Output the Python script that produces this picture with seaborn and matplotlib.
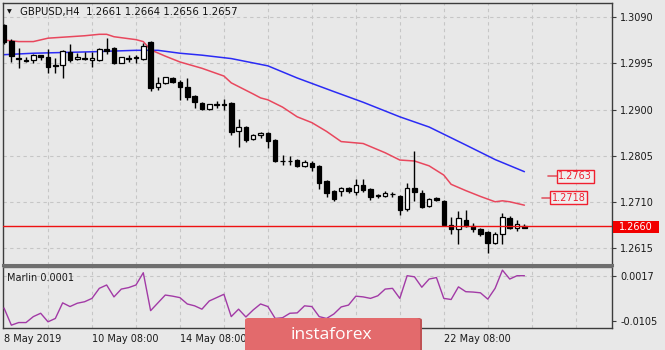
import numpy as np
import matplotlib
matplotlib.use("Agg")
import matplotlib.pyplot as plt
from matplotlib.patches import FancyBboxPatch, Rectangle
import seaborn as sns

# ---- GBPUSD H4 candles ----
opens = [1.3074, 1.3041, 1.3006, 1.3003, 1.3002, 1.3012, 1.3008, 1.2992, 1.2992, 1.3019,
         1.3004, 1.3006, 1.3002, 1.3002, 1.3025, 1.3027, 1.2996, 1.3006, 1.3008, 1.3004,
         1.3039, 1.2946, 1.2955, 1.2965, 1.2957, 1.2946, 1.2928, 1.2913, 1.2901, 1.2911,
         1.2911, 1.2913, 1.2856, 1.2864, 1.2839, 1.2847, 1.2852, 1.2837, 1.2794, 1.2795,
         1.2796, 1.2784, 1.2790, 1.2784, 1.2753, 1.2732, 1.2733, 1.2738, 1.2731, 1.2745,
         1.2736, 1.2724, 1.2722, 1.2726, 1.2722, 1.2695, 1.2738, 1.2728, 1.2702, 1.2718,
         1.2712, 1.2662, 1.2654, 1.2672, 1.2661, 1.2654, 1.2648, 1.2625, 1.2644, 1.2677,
         1.2656, 1.2661]
highs = [1.3076, 1.3045, 1.3027, 1.3008, 1.3014, 1.3012, 1.3025, 1.3006, 1.3023, 1.3035,
         1.3016, 1.3019, 1.3019, 1.3027, 1.3047, 1.3029, 1.3009, 1.3012, 1.3012, 1.3038,
         1.3041, 1.2967, 1.2968, 1.2967, 1.2961, 1.2965, 1.2930, 1.2916, 1.2911, 1.2917,
         1.2922, 1.2916, 1.2881, 1.2866, 1.2850, 1.2853, 1.2854, 1.2839, 1.2806, 1.2804,
         1.2798, 1.2796, 1.2794, 1.2786, 1.2755, 1.2734, 1.2740, 1.2741, 1.2757, 1.2757,
         1.2738, 1.2726, 1.2732, 1.2731, 1.2724, 1.2749, 1.2815, 1.2734, 1.2718, 1.2720,
         1.2714, 1.2679, 1.2691, 1.2693, 1.2667, 1.2656, 1.2650, 1.2648, 1.2687, 1.2681,
         1.2672, 1.2664]
lows = [1.3035, 1.2998, 1.2986, 1.2998, 1.2996, 1.3002, 1.2975, 1.2975, 1.2965, 1.2998,
        1.3002, 1.3002, 1.2988, 1.3001, 1.3014, 1.2994, 1.2995, 1.2998, 1.2996, 1.3002,
        1.2938, 1.2940, 1.2953, 1.2955, 1.2920, 1.2920, 1.2903, 1.2899, 1.2900, 1.2904,
        1.2899, 1.2848, 1.2823, 1.2833, 1.2838, 1.2841, 1.2821, 1.2792, 1.2786, 1.2786,
        1.2782, 1.2782, 1.2773, 1.2736, 1.2720, 1.2712, 1.2722, 1.2728, 1.2724, 1.2730,
        1.2714, 1.2718, 1.2720, 1.2720, 1.2683, 1.2690, 1.2712, 1.2697, 1.2700, 1.2712,
        1.2661, 1.2644, 1.2623, 1.2659, 1.2648, 1.2640, 1.2605, 1.2623, 1.2623, 1.2654,
        1.2650, 1.2656]
closes = [1.3039, 1.3010, 1.3004, 1.3001, 1.3012, 1.3008, 1.2988, 1.2990, 1.3021, 1.3002,
          1.3008, 1.3005, 1.3006, 1.3025, 1.3020, 1.2996, 1.3008, 1.3005, 1.3007, 1.3031,
          1.2944, 1.2955, 1.2967, 1.2957, 1.2946, 1.2926, 1.2916, 1.2901, 1.2911, 1.2910,
          1.2910, 1.2854, 1.2864, 1.2837, 1.2848, 1.2852, 1.2835, 1.2794, 1.2793, 1.2794,
          1.2784, 1.2792, 1.2782, 1.2749, 1.2728, 1.2716, 1.2739, 1.2732, 1.2745, 1.2734,
          1.2720, 1.2722, 1.2728, 1.2725, 1.2693, 1.2738, 1.2730, 1.2700, 1.2716, 1.2714,
          1.2662, 1.2654, 1.2677, 1.2661, 1.2654, 1.2644, 1.2625, 1.2644, 1.2679, 1.2657,
          1.2664, 1.2657]

# ---- moving averages (bar index, price) ----
slow_ma_bar = [0, 4, 12, 18, 21, 24, 27, 31, 36, 40, 45, 49, 54, 58, 63, 67, 71]
slow_ma = [1.3013, 1.3016, 1.3019, 1.3022, 1.3022, 1.3016, 1.3012, 1.3005, 1.2990, 1.2965,
           1.2937, 1.2915, 1.2885, 1.2864, 1.2827, 1.2797, 1.2772]
fast_ma_bar = [0, 2, 4, 6, 9, 11, 13, 14, 15, 18, 19, 20, 22, 24, 27, 30, 31, 34, 35, 36,
               38, 40, 42, 44, 46, 49, 52, 54, 56, 58, 60, 61, 63, 65, 67, 68, 69, 71]
fast_ma = [1.3043, 1.3040, 1.3040, 1.3047, 1.3050, 1.3052, 1.3055, 1.3055, 1.3050, 1.3044,
           1.3040, 1.3023, 1.3010, 1.2998, 1.2985, 1.2969, 1.2955, 1.2932, 1.2924, 1.2920,
           1.2905, 1.2885, 1.2873, 1.2855, 1.2834, 1.2830, 1.2811, 1.2796, 1.2794, 1.2784,
           1.2765, 1.2746, 1.2733, 1.2721, 1.2710, 1.2712, 1.2710, 1.2703]

# ---- Marlin oscillator ----
marlin = [-0.0070, -0.0116, -0.0109, -0.0109, -0.0093, -0.0084, -0.0107, -0.0098, -0.0056, -0.0066,
          -0.0057, -0.0053, -0.0044, -0.0017, -0.0008, -0.0040, -0.0019, -0.0015, -0.0008, 0.0025,
          -0.0077, -0.0056, -0.0035, -0.0038, -0.0042, -0.0059, -0.0064, -0.0073, -0.0051, -0.0042,
          -0.0033, -0.0093, -0.0073, -0.0094, -0.0075, -0.0059, -0.0066, -0.0098, -0.0096, -0.0084,
          -0.0083, -0.0064, -0.0066, -0.0093, -0.0098, -0.0086, -0.0067, -0.0062, -0.0038, -0.0040,
          -0.0044, -0.0037, -0.0019, -0.0017, -0.0044, 0.0017, 0.0014, -0.0014, 0.0008, 0.0012,
          -0.0044, -0.0047, -0.0013, -0.0026, -0.0027, -0.0029, -0.0046, -0.0017, 0.0032, 0.0008,
          0.0017, 0.0017]

# ---- labels ----
title = "GBPUSD,H4  1.2661 1.2664 1.2656 1.2657"
price_ticks = [1.2615, 1.2710, 1.2805, 1.2900, 1.2995, 1.3090]
marlin_ticks = [-0.0105, 0.0017]
time_tick_bars = [0, 12, 24, 60]
time_tick_labels = ["8 May 2019", "10 May 08:00", "14 May 08:00", "22 May 08:00"]
bid_price = 1.2660
level_prices = [1.2763, 1.2718]

# ---- style ----
sns.set_theme(style="white")
plt.rcParams["font.family"] = ["DejaVu Sans"]
BG = "#e8e8e8"
GRID = "#c6c6c6"
SPINE = "#3c3c3c"

W, H = 665, 350
fig = plt.figure(figsize=(W / 100, H / 100), dpi=100)
fig.patch.set_facecolor(BG)


def fx(px):
    return px / W


def fy(py):
    return 1 - py / H


ax = fig.add_axes([fx(3), fy(264.5), fx(612) - fx(3), fy(2.5) - fy(264.5)])
ax2 = fig.add_axes([fx(3), fy(327.5), fx(612) - fx(3), fy(267) - fy(327.5)])

XMIN, XMAX = -0.14, 82.95
for a in (ax, ax2):
    a.set_facecolor(BG)
    a.set_xlim(XMIN, XMAX)
    for s in a.spines.values():
        s.set_color(SPINE)
        s.set_linewidth(1.0)
    a.grid(False)
    for gx in np.arange(6, 83, 6):
        a.axvline(gx, color=GRID, lw=0.8, ls=(0, (3, 3)), zorder=0)

ax.spines["bottom"].set_linewidth(2.2)
ax.spines["bottom"].set_color("#6e6e6e")
ax2.spines["top"].set_color("#6e6e6e")

# ---- main price panel ----
ax.set_ylim(1.25808, 1.31205)
for p in price_ticks:
    ax.axhline(p, color=GRID, lw=0.8, ls=(0, (3, 3)), zorder=0)

o = np.array(opens)
h = np.array(highs)
l = np.array(lows)
c = np.array(closes)
idx = np.arange(len(o))
bull = c >= o

ax.vlines(idx, l, h, color="black", lw=1.0, zorder=3)
ax.bar(idx[bull], (c - o)[bull], bottom=o[bull], width=0.62,
       facecolor="white", edgecolor="black", linewidth=0.9, zorder=4)
ax.bar(idx[~bull], (o - c)[~bull], bottom=c[~bull], width=0.62,
       facecolor="black", edgecolor="black", linewidth=0.9, zorder=4)

sns.lineplot(x=slow_ma_bar, y=slow_ma, ax=ax, color="#2b2bf5", lw=1.1,
             sort=False, estimator=None, zorder=2)
sns.lineplot(x=fast_ma_bar, y=fast_ma, ax=ax, color="#e8475d", lw=1.1,
             sort=False, estimator=None, zorder=2)

ax.axhline(bid_price, color="#ee1111", lw=1.0, zorder=5)

ax.yaxis.tick_right()
ax.set_yticks(price_ticks)
ax.set_yticklabels([f"{p:.4f}" for p in price_ticks])
ax.tick_params(axis="y", which="major", direction="out", length=3, width=0.8,
               color=SPINE, pad=3, labelsize=7, labelcolor="#1a1a1a")
ax.set_xticks([])
ax.tick_params(axis="x", which="both", length=0, labelbottom=False)
ax.set_xlabel("")
ax.set_ylabel("")

# level tags on the right side
level_tag_x = [(74.2, 75.5), (73.4, 74.6)]
for price, (x0, x1) in zip(level_prices, level_tag_x):
    ax.plot([x0, x1], [price, price], color="#e05a66", lw=1.2, zorder=6)
    ax.text(x1 + 0.12, price, f"{price:.4f}", color="#f02030", fontsize=7,
            va="center", ha="left", zorder=7,
            bbox=dict(boxstyle="square,pad=0.15", facecolor="#efefef",
                      edgecolor="#f02030", linewidth=1.0))

# bid price tag on the price scale
fig.patches.append(Rectangle((fx(613), fy(232.7)), fx(659) - fx(613), fy(220.7) - fy(232.7),
                             transform=fig.transFigure, facecolor="#f20000",
                             edgecolor="none", zorder=10))
fig.text(fx(619), fy(226.7), f"{bid_price:.4f}", color="white", fontsize=7,
         va="center", ha="left", zorder=11)

# header
fig.text(fx(7), fy(11.5), "\u25BC", fontsize=4.5, color="#111111", va="center", ha="left")
fig.text(fx(20), fy(12), title, fontsize=7.3, color="#111111", va="center", ha="left")

# ---- Marlin panel ----
ax2.set_ylim(-0.01223, 0.00404)
ax2.axhline(marlin_ticks[1], color=GRID, lw=0.8, ls=(0, (3, 3)), zorder=0)
sns.lineplot(x=idx, y=marlin, ax=ax2, color="#a23aa6", lw=1.0,
             sort=False, estimator=None, zorder=3)
ax2.yaxis.tick_right()
ax2.set_yticks(marlin_ticks)
ax2.set_yticklabels([f"{v:.4f}" for v in marlin_ticks])
ax2.tick_params(axis="y", direction="out", length=3, width=0.8, color=SPINE,
                pad=3, labelsize=7, labelcolor="#1a1a1a")
ax2.set_xticks(time_tick_bars)
ax2.set_xticklabels(time_tick_labels, ha="left")
ax2.tick_params(axis="x", which="major", direction="out", length=3, width=0.8,
                color=SPINE, pad=2, labelsize=7, labelcolor="#1a1a1a")
ax2.set_xlabel("")
ax2.set_ylabel("")
fig.text(fx(7), fy(277.7), "Marlin 0.0001", fontsize=7, color="#1a1a1a",
         va="center", ha="left")

# ---- watermark ----
fig.patches.append(FancyBboxPatch((fx(247), fy(353)), fx(422) - fx(247), fy(318) - fy(353),
                                  boxstyle="round,pad=0,rounding_size=0.006",
                                  transform=fig.transFigure, facecolor="#c05254",
                                  edgecolor="none", zorder=20))
fig.patches.append(FancyBboxPatch((fx(245), fy(353)), fx(420) - fx(245), fy(318) - fy(353),
                                  boxstyle="round,pad=0,rounding_size=0.006",
                                  transform=fig.transFigure, facecolor="#e36a6c",
                                  edgecolor="none", zorder=21))
fig.text(fx(331.5), fy(335), "instaforex", fontsize=12.5, color="white",
         family=["Open Sans", "DejaVu Sans"], va="center", ha="center", zorder=22)

fig.savefig("out.png", dpi=100, facecolor=BG)
